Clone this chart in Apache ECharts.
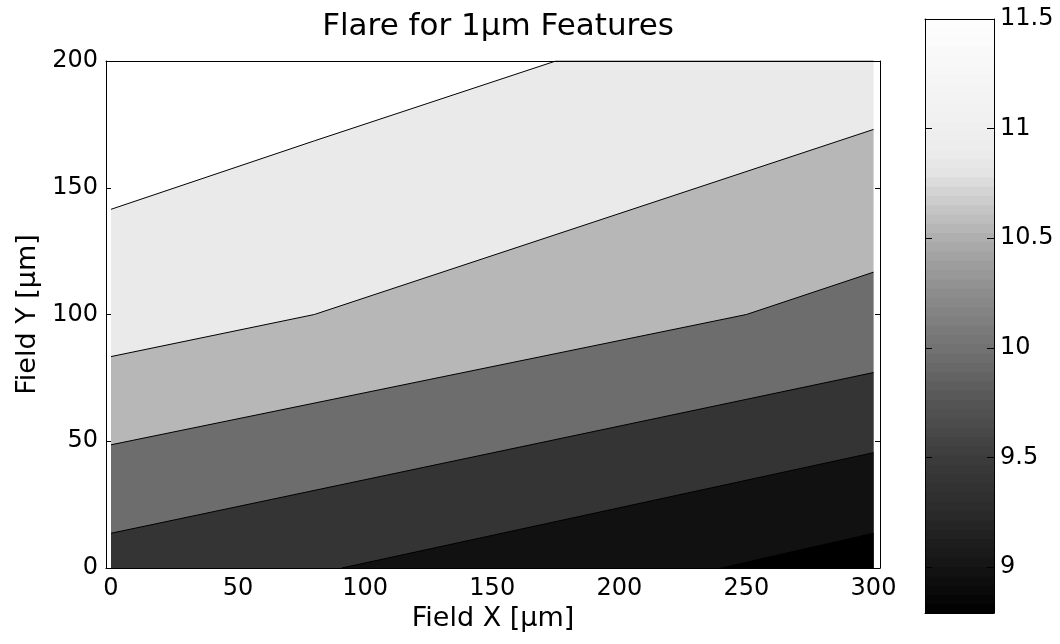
<!DOCTYPE html>
<html><head><meta charset="utf-8">
<script src="https://cdn.jsdelivr.net/npm/echarts@6/dist/echarts.min.js"></script>
<style>html,body{margin:0;padding:0;background:#fff}#chart{width:1060px;height:644px}</style>
</head><body><div id="chart"></div>
<script>
// ---- texts and ticks ----
const titleText = 'Flare for 1\u03bcm Features';
const xName = 'Field X [\u03bcm]';
const yName = 'Field Y [\u03bcm]';
const xTicks = [0, 50, 100, 150, 200, 250, 300];
const yTicks = [0, 50, 100, 150, 200];
const cbarTicks = [9, 9.5, 10, 10.5, 11, 11.5];
const xRange = [-1.97, 302.56];
const yRange = [0, 200];
const cRange = [8.79, 11.5];

// ---- contour boundary lines [x, y], top to bottom ----
const contour1 = [[0, 141.5], [80, 168.5], [175, 200], [300, 200]];
const contour2 = [[0, 83.4], [80, 100], [300, 173]];
const contour3 = [[0, 48.6], [250, 100], [300, 116.7]];
const contour4 = [[0, 13.7], [300, 77.1]];
const contour5 = [[90.8, 0], [300, 45.5]];
const contour6 = [[240, 0], [300, 13.7]];
const contourLines = [contour1, contour2, contour3, contour4, contour5, contour6];
const fillColors = ['#eaeaea', '#b7b7b7', '#6d6d6d', '#343434', '#111111', '#000000'];

// ---- colorbar colormap (value -> gray level) ----
const cbarStopValues = [8.79, 9.0, 9.25, 9.5, 9.75, 10.0, 10.25, 10.5, 10.65, 10.8, 10.9, 11.0, 11.25, 11.5];
const cbarStopGrays  = [0,    20,  42,   60,  85,   114,  140,   174,  200,   228,  236,  239,  246,   254];
const cbarBands = 64;

const FONT = 'DejaVu Sans';

function grayAt(v) {
  for (let i = 0; i < cbarStopValues.length - 1; i++) {
    const a = cbarStopValues[i], b = cbarStopValues[i + 1];
    if (v <= b) {
      const t = Math.max(0, (v - a) / (b - a));
      return cbarStopGrays[i] + t * (cbarStopGrays[i + 1] - cbarStopGrays[i]);
    }
  }
  return cbarStopGrays[cbarStopGrays.length - 1];
}
const bandData = [];
for (let i = 0; i < cbarBands; i++) {
  const lo = cRange[0] + (cRange[1] - cRange[0]) * i / cbarBands;
  const hi = cRange[0] + (cRange[1] - cRange[0]) * (i + 1) / cbarBands;
  const g = Math.round(grayAt((lo + hi) / 2));
  bandData.push([lo, hi, g]);
}

const contourSeries = contourLines.map((pts, i) => ({
  type: 'line', xAxisIndex: 0, yAxisIndex: 0, data: pts,
  showSymbol: false, symbol: 'none', smooth: false, silent: true, animation: false,
  lineStyle: { color: '#000', width: 1 },
  areaStyle: { color: fillColors[i], opacity: 1, origin: 'start' },
  z: 2 + i * 0.01
}));

const cbarSeries = {
  type: 'custom', xAxisIndex: 2, yAxisIndex: 2, data: bandData, silent: true, animation: false, z: 2,
  renderItem: function (params, api) {
    const lo = api.value(0), hi = api.value(1), g = api.value(2);
    const p1 = api.coord([0, hi]);
    const p2 = api.coord([1, lo]);
    const c = 'rgb(' + g + ',' + g + ',' + g + ')';
    return { type: 'rect', shape: { x: p1[0], y: p1[1] - 0.5, width: p2[0] - p1[0], height: p2[1] - p1[1] + 1 },
      style: { fill: c, stroke: null } };
  }
};

const axisLineBlack = { show: true, onZero: false, lineStyle: { color: '#000', width: 1 } };
const labelStyle = { color: '#000', fontSize: 24, fontFamily: FONT };

const option = {
  backgroundColor: '#fff',
  animation: false,
  title: {
    text: titleText, left: 493, top: 6, textAlign: 'center',
    textStyle: { color: '#000', fontSize: 31, fontWeight: 'normal', fontFamily: FONT }
  },
  grid: [
    { left: 106, top: 61, width: 774, height: 507 },
    { left: 925, top: 19, width: 69, height: 594 }
  ],
  xAxis: [
    { gridIndex: 0, type: 'value', position: 'bottom', min: xRange[0], max: xRange[1], z: 5,
      axisLine: axisLineBlack, axisTick: { show: false }, splitLine: { show: false },
      axisLabel: Object.assign({ customValues: xTicks, margin: 9 }, labelStyle),
      name: xName, nameLocation: 'middle', nameGap: 34,
      nameTextStyle: { color: '#000', fontSize: 27, fontFamily: FONT } },
    { gridIndex: 0, type: 'value', position: 'top', min: xRange[0], max: xRange[1], z: 5,
      axisLine: axisLineBlack, axisTick: { show: false }, axisLabel: { show: false }, splitLine: { show: false } },
    { gridIndex: 1, type: 'value', position: 'bottom', min: 0, max: 1, z: 5,
      axisLine: axisLineBlack, axisTick: { show: false }, axisLabel: { show: false }, splitLine: { show: false } },
    { gridIndex: 1, type: 'value', position: 'top', min: 0, max: 1, z: 5,
      axisLine: axisLineBlack, axisTick: { show: false }, axisLabel: { show: false }, splitLine: { show: false } }
  ],
  yAxis: [
    { gridIndex: 0, type: 'value', position: 'left', min: yRange[0], max: yRange[1], interval: 50, z: 5,
      axisLine: axisLineBlack, splitLine: { show: false },
      axisTick: { show: true, inside: true, length: 5, customValues: yTicks, lineStyle: { color: '#000' } },
      axisLabel: Object.assign({ customValues: yTicks, margin: 8 }, labelStyle),
      name: yName, nameLocation: 'middle', nameGap: 64, nameRotate: 90,
      nameTextStyle: { color: '#000', fontSize: 27, fontFamily: FONT } },
    { gridIndex: 0, type: 'value', position: 'right', min: yRange[0], max: yRange[1], interval: 50, z: 5,
      axisLine: axisLineBlack, splitLine: { show: false },
      axisTick: { show: true, inside: true, length: 5, customValues: yTicks, lineStyle: { color: '#000' } },
      axisLabel: { show: false } },
    { gridIndex: 1, type: 'value', position: 'left', min: cRange[0], max: cRange[1], z: 5,
      axisLine: axisLineBlack, splitLine: { show: false },
      axisTick: { show: true, inside: true, length: 7, customValues: cbarTicks.slice(0, 5), lineStyle: { color: '#000' } },
      axisLabel: { show: false } },
    { gridIndex: 1, type: 'value', position: 'right', min: cRange[0], max: cRange[1], z: 5,
      axisLine: axisLineBlack, splitLine: { show: false },
      axisTick: { show: true, inside: true, length: 7, customValues: cbarTicks.slice(0, 5), lineStyle: { color: '#000' } },
      axisLabel: Object.assign({ customValues: cbarTicks, margin: 6 }, labelStyle) }
  ],
  series: contourSeries.concat([cbarSeries])
};

const chart = echarts.init(document.getElementById('chart'), null, { renderer: 'canvas' });
chart.setOption(option);
</script>
</body></html>
